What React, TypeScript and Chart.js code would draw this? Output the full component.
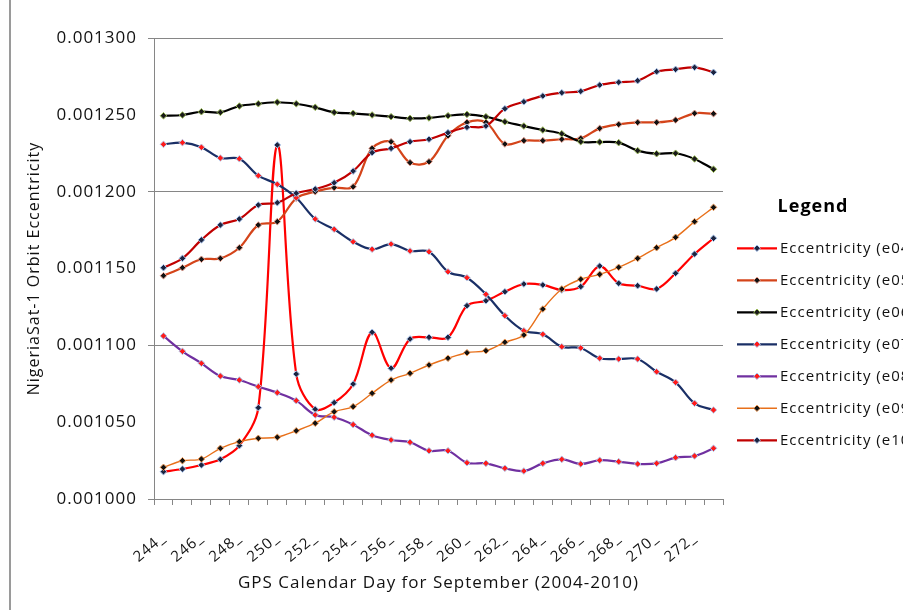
import React, { useEffect, useRef } from "react";
import { Chart, registerables } from "chart.js";

Chart.register(...registerables);

const days = [
  "244_", "245_", "246_", "247_", "248_", "249_", "250_", "251_", "252_", "253_",
  "254_", "255_", "256_", "257_", "258_", "259_", "260_", "261_", "262_", "263_",
  "264_", "265_", "266_", "267_", "268_", "269_", "270_", "271_", "272_", "273_",
];

const e04 = [0.0010178, 0.0010195, 0.0010221, 0.0010258, 0.0010347, 0.0010594, 0.0012304, 0.0010813, 0.0010584, 0.0010627, 0.0010748, 0.0011085, 0.0010851, 0.0011041, 0.0011052, 0.0011052, 0.0011258, 0.001129, 0.0011349, 0.0011399, 0.0011393, 0.001136, 0.0011382, 0.0011516, 0.0011404, 0.0011388, 0.0011367, 0.0011469, 0.0011594, 0.0011697];
const e05 = [0.0011453, 0.0011505, 0.001156, 0.0011566, 0.0011635, 0.0011783, 0.0011805, 0.0011957, 0.0012, 0.0012026, 0.0012032, 0.0012282, 0.0012325, 0.0012189, 0.0012195, 0.0012364, 0.0012451, 0.0012451, 0.001231, 0.0012332, 0.0012332, 0.0012341, 0.0012347, 0.0012412, 0.0012438, 0.0012451, 0.0012451, 0.0012466, 0.001251, 0.0012507];
const e06 = [0.0012494, 0.0012499, 0.001252, 0.0012516, 0.0012557, 0.0012572, 0.0012582, 0.0012572, 0.0012549, 0.0012516, 0.001251, 0.0012499, 0.0012488, 0.0012477, 0.001248, 0.0012494, 0.0012503, 0.0012488, 0.0012455, 0.0012427, 0.0012401, 0.0012377, 0.0012325, 0.0012323, 0.0012319, 0.0012267, 0.0012247, 0.001225, 0.0012213, 0.0012146];
const e07 = [0.0012308, 0.0012319, 0.0012289, 0.0012219, 0.0012214, 0.0012104, 0.0012048, 0.001196, 0.0011822, 0.0011755, 0.0011674, 0.0011625, 0.0011659, 0.0011614, 0.0011609, 0.0011479, 0.001144, 0.0011332, 0.0011193, 0.0011095, 0.0011072, 0.0010991, 0.0010983, 0.0010916, 0.0010911, 0.0010911, 0.0010828, 0.0010759, 0.0010623, 0.0010579];
const e08 = [0.0011061, 0.0010961, 0.0010883, 0.00108, 0.0010774, 0.0010731, 0.0010692, 0.001064, 0.0010547, 0.0010532, 0.0010484, 0.0010415, 0.0010384, 0.0010369, 0.0010314, 0.0010314, 0.0010236, 0.0010232, 0.00102, 0.0010182, 0.0010232, 0.0010258, 0.0010228, 0.0010252, 0.0010243, 0.0010228, 0.0010232, 0.0010269, 0.001028, 0.001033];
const e09 = [0.0010206, 0.0010249, 0.001026, 0.001033, 0.0010373, 0.0010395, 0.0010402, 0.0010444, 0.0010493, 0.0010568, 0.0010601, 0.0010688, 0.0010774, 0.0010818, 0.0010872, 0.0010916, 0.0010952, 0.0010965, 0.001102, 0.0011067, 0.0011236, 0.0011367, 0.001143, 0.0011462, 0.0011508, 0.0011566, 0.0011635, 0.0011703, 0.0011805, 0.0011898];
const e10 = [0.0011505, 0.0011566, 0.0011686, 0.0011783, 0.0011822, 0.0011913, 0.0011928, 0.001199, 0.0012017, 0.0012058, 0.0012134, 0.0012254, 0.0012282, 0.0012325, 0.0012341, 0.0012384, 0.0012419, 0.0012427, 0.001254, 0.0012585, 0.0012623, 0.0012644, 0.0012653, 0.0012694, 0.0012712, 0.0012722, 0.0012781, 0.0012796, 0.0012809, 0.0012777];

const seriesNames = [
  "Eccentricity (e04)",
  "Eccentricity (e05)",
  "Eccentricity (e06)",
  "Eccentricity (e07)",
  "Eccentricity (e08)",
  "Eccentricity (e09)",
  "Eccentricity (e10)",
];
const seriesValues = [e04, e05, e06, e07, e08, e09, e10];
const lineColors = ["#FF0000", "#D4441A", "#000000", "#1A2F66", "#7030A0", "#E8701A", "#C00000"];
const lineWidths = [2.2, 2.2, 2.2, 2.2, 2.2, 1.4, 2.2];
const markerFills = ["#1B2440", "#111111", "#1A1A1A", "#FF1A1A", "#FF1A1A", "#111111", "#1B2440"];
const markerBorders = ["#A9C4EB", "#E6A090", "#9BBB59", "#B9CDEB", "#A9C4EB", "#F0A060", "#A9C4EB"];

const yTickStep = 0.00005;
const yMin = 0.001;
const yMax = 0.0013;

const FONT = "'Open Sans', 'Liberation Sans', sans-serif";
const AXIS_GRAY = "#868686";
const LETTER_SPACING = "1px";

const textSpacing = {
  id: "textSpacing",
  beforeInit(chart: any) {
    chart.ctx.letterSpacing = LETTER_SPACING;
  },
  beforeUpdate(chart: any) {
    chart.ctx.letterSpacing = LETTER_SPACING;
  },
  beforeDraw(chart: any) {
    chart.ctx.letterSpacing = LETTER_SPACING;
  },
};

const legendSwatches = {
  id: "legendSwatches",
  afterDraw(chart: any) {
    const legend = chart.legend;
    if (!legend || !legend.legendHitBoxes) return;
    const ctx = chart.ctx;
    legend.legendHitBoxes.forEach((hb: any, i: number) => {
      const ds = chart.data.datasets[i];
      if (!ds) return;
      const cy = hb.top + hb.height / 2;
      const x0 = hb.left - 3;
      const x1 = hb.left + 37;
      ctx.save();
      ctx.strokeStyle = ds.borderColor;
      ctx.lineWidth = ds.borderWidth;
      ctx.beginPath();
      ctx.moveTo(x0, cy);
      ctx.lineTo(x1, cy);
      ctx.stroke();
      const cx = (x0 + x1) / 2;
      const r = 3.3;
      ctx.beginPath();
      ctx.moveTo(cx, cy - r);
      ctx.lineTo(cx + r, cy);
      ctx.lineTo(cx, cy + r);
      ctx.lineTo(cx - r, cy);
      ctx.closePath();
      ctx.fillStyle = ds.pointBackgroundColor;
      ctx.fill();
      ctx.strokeStyle = ds.pointBorderColor;
      ctx.lineWidth = 1;
      ctx.stroke();
      ctx.restore();
    });
  },
};

export default function App() {
  const canvasRef = useRef<HTMLCanvasElement | null>(null);

  useEffect(() => {
    const canvas = canvasRef.current;
    if (!canvas) return;
    const datasets = seriesValues.map((vals, i) => ({
      label: seriesNames[i],
      data: vals,
      borderColor: lineColors[i],
      backgroundColor: lineColors[i],
      borderWidth: lineWidths[i],
      pointStyle: "rectRot",
      pointRadius: 3.3,
      pointBorderWidth: 1,
      pointBackgroundColor: markerFills[i],
      pointBorderColor: markerBorders[i],
      tension: 0.35,
      fill: false,
      order: 7 - i,
    }));

    const chart = new Chart(canvas, {
      type: "line",
      data: { labels: days, datasets },
      plugins: [textSpacing, legendSwatches],
      options: {
        animation: false,
        responsive: false,
        devicePixelRatio: 1,
        layout: { padding: { top: 38, bottom: 13, left: 0, right: 0 } },
        plugins: {
          tooltip: { enabled: false },
          legend: {
            position: "right",
            align: "center",
            maxWidth: 180,
            title: {
              display: true,
              text: "Legend",
              color: "#000",
              font: { family: FONT, size: 18, weight: "bold" },
              padding: { top: 28, bottom: 4 },
            },
            labels: {
              color: "#111",
              font: { family: FONT, size: 15 },
              boxWidth: 32.5,
              boxHeight: 2,
              padding: 17,
              generateLabels: (ch: any) =>
                ch.data.datasets.map((ds: any, i: number) => ({
                  text: ds.label,
                  fillStyle: "rgba(0,0,0,0)",
                  strokeStyle: "rgba(0,0,0,0)",
                  lineWidth: 0,
                  hidden: false,
                  datasetIndex: i,
                  fontColor: "#111",
                })),
            },
          },
        },
        scales: {
          x: {
            type: "category",
            offset: true,
            afterFit: (scale: any) => {
              scale.height = 98;
            },
            grid: {
              display: true,
              offset: true,
              drawOnChartArea: false,
              drawTicks: true,
              tickLength: 6,
              color: AXIS_GRAY,
            },
            border: { display: true, color: AXIS_GRAY, width: 1 },
            ticks: {
              autoSkip: false,
              maxRotation: 40,
              minRotation: 40,
              padding: 24,
              color: "#111",
              font: { family: FONT, size: 15 },
              callback: (_v: any, idx: number) => (idx % 2 === 0 ? days[idx] : ""),
            },
            title: {
              display: true,
              text: "GPS Calendar Day for September (2004-2010)",
              color: "#111",
              font: { family: FONT, size: 17 },
              padding: { top: 4, bottom: 4 },
            },
          },
          y: {
            type: "linear",
            min: yMin,
            max: yMax,
            afterFit: (scale: any) => {
              scale.width = 154;
            },
            grid: {
              display: true,
              drawTicks: true,
              tickLength: 6,
              color: (c: any) => {
                const v = c.tick ? c.tick.value : null;
                if (v == null) return "rgba(0,0,0,0)";
                return Math.round(v / yTickStep) % 2 === 0 ? AXIS_GRAY : "rgba(0,0,0,0)";
              },
            },
            border: { display: true, color: AXIS_GRAY, width: 1 },
            ticks: {
              stepSize: yTickStep,
              padding: 11,
              color: "#111",
              font: { family: FONT, size: 17 },
              callback: (v: any) => Number(v).toFixed(6),
            },
            title: {
              display: true,
              text: "NigeriaSat-1 Orbit Eccentricity",
              color: "#111",
              font: { family: FONT, size: 16 },
              padding: { top: 25, bottom: 0 },
            },
          },
        },
      },
    } as any);

    return () => {
      chart.destroy();
    };
  }, []);

  return (
    <div
      style={{
        position: "fixed",
        left: 0,
        top: 0,
        width: 903,
        height: 610,
        overflow: "hidden",
        background: "#fff",
      }}
    >
      <div
        style={{
          position: "absolute",
          left: 9,
          top: 0,
          width: 2,
          height: 610,
          background: "#9a9a9a",
        }}
      />
      <canvas
        ref={canvasRef}
        width={903}
        height={610}
        style={{ position: "absolute", left: 0, top: 0, width: 903, height: 610 }}
      />
    </div>
  );
}
